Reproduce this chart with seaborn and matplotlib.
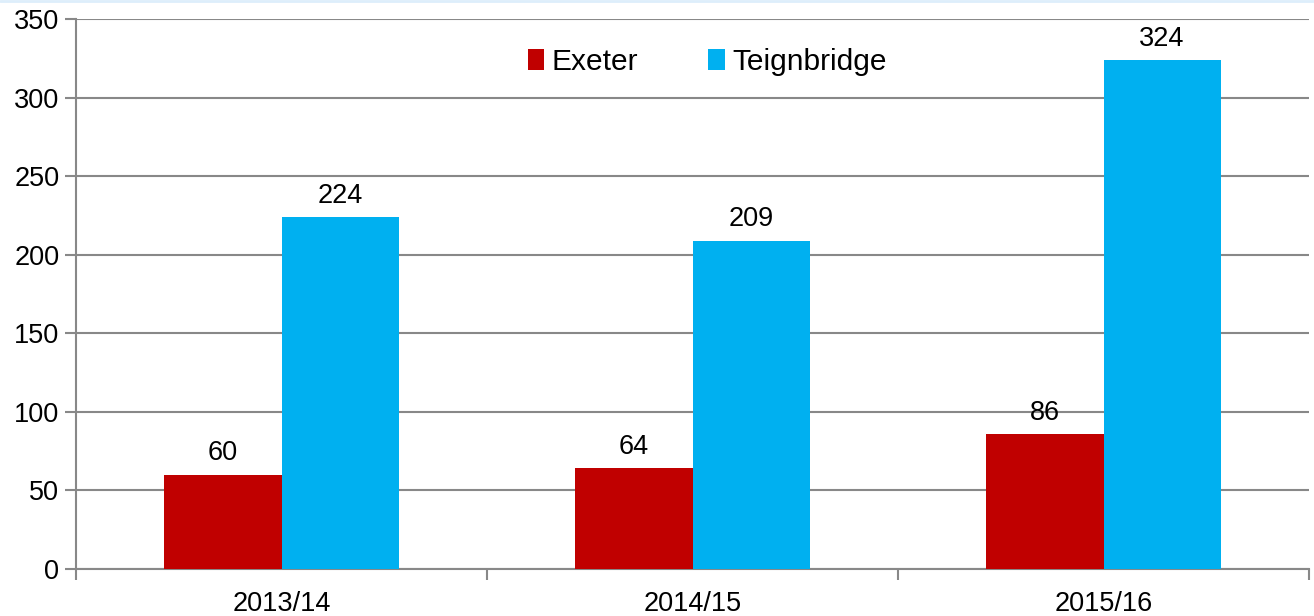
import matplotlib
matplotlib.use("Agg")
import matplotlib.pyplot as plt
import seaborn as sns
import pandas as pd
from matplotlib.ticker import FixedLocator

years = ["2013/14", "2014/15", "2015/16"]
exeter = [60, 64, 86]
teignbridge = [224, 209, 324]
series_names = ["Exeter", "Teignbridge"]
colors = ["#C00000", "#00B0F0"]

df = pd.DataFrame({
    "year": years * 2,
    "value": exeter + teignbridge,
    "area": [series_names[0]] * len(years) + [series_names[1]] * len(years),
})

sns.set_theme(style="white")
plt.rcParams["font.family"] = ["Liberation Sans", "DejaVu Sans"]
plt.rcParams["text.color"] = "black"

FS = 19.5
LEG_FS = 21.5

fig = plt.figure(figsize=(13.14, 6.16), dpi=100)
ax = fig.add_axes([76 / 1314, 1 - 569 / 616, (1309 - 76) / 1314, (569 - 19) / 616])

sns.barplot(data=df, x="year", y="value", hue="area", palette=colors,
            width=0.57, saturation=1, ax=ax, zorder=3, legend=True,
            linewidth=0, edgecolor="none")

grid_c = "#888888"
ax.set_ylim(0, 350)
ax.set_xlim(-0.5, 2.5)
ax.set_yticks(range(0, 351, 50))
ax.yaxis.grid(True, color=grid_c, linewidth=1.5, zorder=0)
ax.set_axisbelow(True)
for s in ["top", "right"]:
    ax.spines[s].set_visible(False)
for s in ["left", "bottom"]:
    ax.spines[s].set_color(grid_c)
    ax.spines[s].set_linewidth(1.5)

ax.tick_params(axis="y", which="major", left=True, length=8, width=1.5,
               color=grid_c, labelsize=FS, pad=4, labelcolor="black")
ax.tick_params(axis="x", which="major", bottom=False, labelsize=FS,
               pad=10, labelcolor="black")
ax.xaxis.set_minor_locator(FixedLocator([-0.5, 0.5, 1.5, 2.5]))
ax.tick_params(axis="x", which="minor", bottom=True, length=8, width=1.5,
               color=grid_c)
ax.set_xlabel("")
ax.set_ylabel("")

for cont in ax.containers:
    ax.bar_label(cont, fmt="%d", padding=6, fontsize=FS, color="black")

handles, labels = ax.get_legend_handles_labels()
ax.legend(handles, labels, loc="center", bbox_to_anchor=(0.512, 0.922),
          ncol=2, frameon=False, fontsize=LEG_FS, handlelength=0.55,
          handleheight=0.7, handletextpad=0.25, columnspacing=2.35)

fig.add_artist(plt.Line2D([0, 1], [0.998, 0.998], color="#DDEEFB",
                          linewidth=2, transform=fig.transFigure))

fig.savefig("out.png", dpi=100, facecolor="white")
